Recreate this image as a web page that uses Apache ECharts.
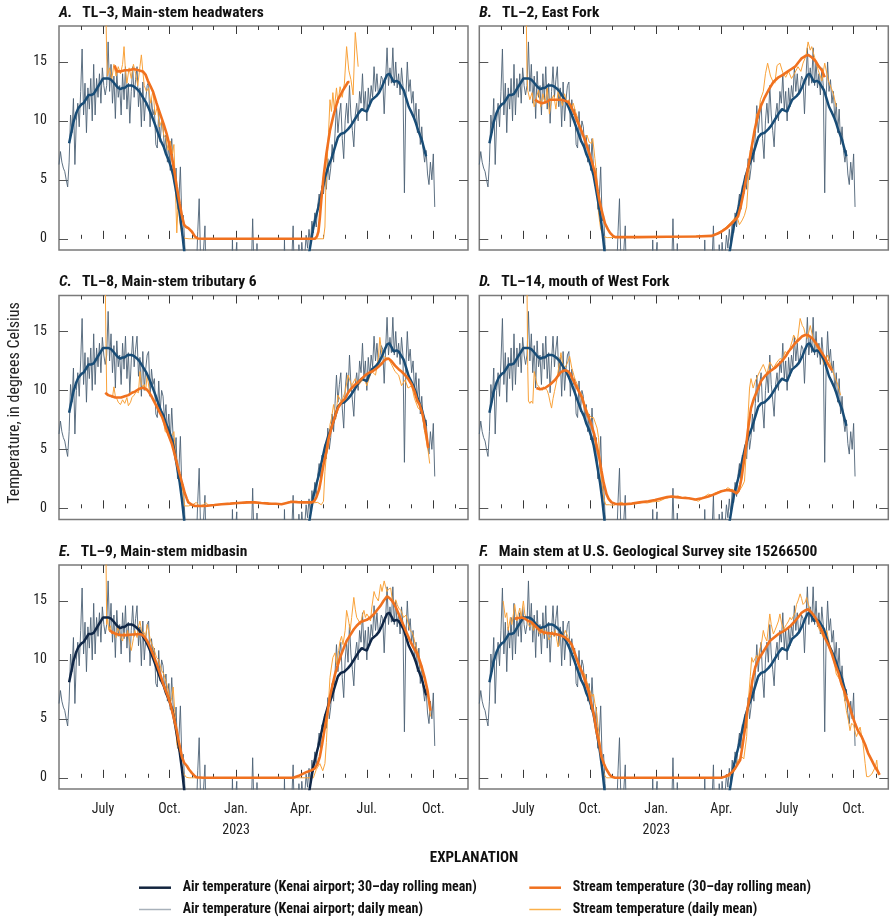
<!DOCTYPE html>
<html><head><meta charset="utf-8">
<script src="https://cdn.jsdelivr.net/npm/echarts@6/dist/echarts.min.js"></script>
<style>html,body{margin:0;padding:0;background:#fff}#c{width:895px;height:921px}</style>
</head><body><div id="c"></div>
<script>
// ---------------- DATA ----------------
const START_DATE = '2022-05-01';           // day 0 of all day offsets below
const END_DATE = '2023-11-18';
const AIR_STEP_DAYS = 2;                   // air daily values, one every 2 days from START_DATE

// Air temperature, Kenai airport, daily mean (deg C)
const airDaily = [
 6.3, 7.4, 6.5, 6.0, 5.7, 5.0, 4.4, 6.5, 10.5, 9.0,
 11.9, 6.3, 10.0, 11.5, 9.5, 12.5, 16.1, 10.5, 13.2, 9.0,
 12.8, 11.0, 13.6, 10.0, 14.8, 10.5, 13.6, 12.0, 14.0, 11.5,
 14.5, 13.0, 12.2, 13.0, 16.7, 12.5, 14.8, 11.5, 13.8, 10.2,
 14.2, 12.0, 13.0, 10.5, 14.0, 11.8, 14.6, 11.0, 13.2, 9.8,
 12.5, 14.6, 12.0, 13.5, 14.6, 11.2, 12.8, 9.5, 13.3, 10.0,
 11.8, 13.0, 13.3, 9.5, 11.8, 10.5, 11.0, 8.0, 7.7, 10.8,
 8.2, 10.0, 9.5, 7.5, 8.8, 6.5, 8.0, 5.8, 8.5, 6.0,
 4.5, 6.0, 2.5, 3.5, 6.1, 1.5, 2.0, -0.5, -3, -1.5,
 -4, -6, -2, -8, -5, -3, 0.6, 3.4, -2, -6,
 -1, 1.1, -5, -9, -12, -7, -10, -14, -8, -11,
 -6, -13, -9, -4, -7, -10, -5, -8, -3, -6,
 -0.1, -5, -2, -0.3, -7, -11, -6, -13, -9, -4,
 -8, -12, -6, -3, 1.7, -3, -6, -0.4, -6, -12,
 -8, -5, -10, -7, -14, -9, -6, -11, -4, -8,
 -5, -9, -3, -6, -4, -7, -0.1, -6, -3, -7,
 -4, -2, 1.1, -4, -2, -5, -0.5, -3, -0.3, -2,
 -1.5, 0.3, -0.8, 0.8, -0.5, 1.5, 0.5, 2.2, 1.0, 2.8,
 3.8, 2.5, 4.5, 3.8, 5.4, 4.2, 6.8, 5.0, 6.0, 8.0,
 6.5, 8.9, 11.3, 9.0, 10.5, 11.5, 8.5, 6.8, 10.0, 11.5,
 9.8, 13.0, 10.5, 9.2, 7.8, 10.5, 11.5, 10.0, 12.5, 11.5,
 14.0, 11.0, 12.5, 10.0, 12.8, 11.2, 13.0, 12.0, 14.6, 12.5,
 14.0, 12.2, 12.8, 13.8, 13.5, 10.6, 13.5, 16.2, 13.0, 14.5,
 13.2, 16.2, 13.0, 15.0, 12.8, 14.0, 12.2, 14.5, 13.0, 3.9,
 12.0, 15.0, 12.5, 13.5, 11.5, 12.5, 10.0, 11.5, 9.0, 11.0,
 8.0, 9.5, 7.5, 6.5, 7.5, 5.5, 4.6, 6.5, 5.0, 7.2,
 2.7
];

// Air temperature, 30-day rolling mean: [day offset, deg C]
const airRolling = [
 [14,8.1],[17,9.0],[20,9.9],[24,10.7],[27,11.1],[31,11.4],[34,11.5],[38,11.9],[41,12.2],[45,12.2],
 [48,12.3],[51,12.6],[54,12.9],[58,13.3],[61,13.6],[65,13.6],[68,13.6],[72,13.5],[75,13.3],[79,13.0],
 [82,12.8],[85,12.7],[88,12.8],[91,12.8],[95,13.0],[98,13.0],[101,13.0],[104,12.9],[108,12.7],[111,12.5],
 [114,12.2],[118,11.8],[121,11.5],[124,11.1],[128,10.5],[131,10.0],[134,9.5],[138,8.8],[141,8.3],[145,7.8],
 [148,7.2],[151,6.8],[155,6.1],[158,5.4],[161,4.4],[164,3.3],[167,2.2],[170,0.8],[173,-0.9],[178,-3.5],
 [185,-5.5],[195,-7],[210,-8],[225,-9],[240,-8.5],[255,-9],[270,-8],[285,-7.5],[300,-6.5],[315,-6],
 [328,-5],[335,-4],[340,-3.0],[347,-0.9],[352,1.0],[356,2.0],[359,2.7],[363,3.8],[368,5.2],[373,6.2],
 [377,6.8],[382,7.8],[386,8.6],[390,8.9],[395,9.0],[400,9.3],[404,9.6],[409,10.1],[414,10.6],[419,11.0],
 [422,10.9],[426,10.8],[430,11.4],[433,11.8],[439,12.1],[443,12.4],[447,12.9],[451,13.5],[454,13.9],[457,14.0],
 [460,13.7],[463,13.3],[467,13.4],[470,13.3],[474,12.9],[477,12.6],[481,11.8],[484,11.2],[488,10.7],[491,10.3],
 [494,9.8],[497,9.2],[502,8.4],[505,7.7],[508,7.0]
];

// Stream temperature, daily mean and 30-day rolling mean: [day offset, deg C]
const streamDailyA = [[65,19.0],[66,15.5],[67,13.8],[70,14.5],[73,13.5],[76,14.8],[79,13.8],[82,14.6],[85,14.0],[88,14.8],[90,16.3],[92,14.2],[94,13.2],[97,14.5],[100,13.6],[103,14.8],[106,14.0],[109,13.0],[112,14.6],[114,15.6],[116,14.2],[118,13.0],[121,12.5],[124,12.8],[127,11.5],[130,12.6],[133,10.5],[136,11.2],[139,9.5],[142,10.0],[145,8.8],[148,8.5],[151,7.5],[154,8.3],[157,7.2],[159,8.0],[161,4.4],[163,0.5],[165,3.3],[167,1.5],[170,0.3],[174,0.05],[180,0],[250,0],[320,0],[366,0],[368,1.0],[369,3.9],[371,6.4],[373,9.0],[375,11.8],[377,10.8],[379,12.4],[381,11.0],[384,12.8],[386,11.5],[389,12.9],[392,12.0],[395,13.2],[398,16.3],[401,14.3],[404,13.5],[407,12.2],[410,17.5],[414,14.6]];
const streamRollA = [[77,14.7],[80,14.2],[85,14.2],[91,14.3],[97,14.3],[103,14.4],[110,14.3],[116,14.2],[120,13.9],[123,13.4],[127,12.9],[130,12.5],[135,11.5],[140,10.6],[145,9.7],[149,8.9],[153,7.9],[156,7.0],[160,5.6],[163,4.4],[167,3.0],[170,2.0],[173,1.2],[176,1.0],[179,0.9],[184,0.6],[188,0.2],[192,0.02],[200,0],[280,0],[354,0],[357,0.2],[359,0.6],[361,1.8],[363,3.3],[366,5.2],[370,7.2],[375,9.2],[380,10.5],[386,11.8],[393,12.6],[400,13.3],[402,13.3]];

const streamDailyB = [[65,19.0],[66,14.0],[67,12.6],[70,11.8],[73,12.4],[76,11.2],[79,12.0],[82,12.6],[85,11.2],[88,12.3],[91,11.5],[94,12.8],[97,10.6],[100,11.8],[103,12.2],[106,11.0],[109,12.5],[112,12.0],[115,11.3],[118,12.3],[121,11.5],[124,11.8],[127,11.0],[130,11.5],[133,10.8],[137,10.1],[140,9.5],[143,9.0],[146,8.4],[149,8.8],[152,8.2],[155,8.1],[157,8.5],[160,6.8],[162,5.6],[165,2.2],[168,0.8],[172,0.2],[177,0.1],[200,0.12],[240,0.15],[280,0.2],[320,0.25],[330,0.5],[340,0.9],[350,1.5],[356,2.0],[360,1.2],[364,1.6],[367,2.0],[370,2.7],[373,5.5],[375,7.5],[379,8.4],[382,9.5],[384,10.6],[386,10.2],[389,11.8],[393,12.5],[396,14.0],[399,14.9],[403,13.8],[406,13.4],[409,13.2],[412,14.7],[416,14.9],[420,14.1],[424,13.7],[428,14.2],[432,13.6],[436,14.0],[441,14.6],[445,14.2],[448,14.9],[452,15.5],[455,16.7],[458,16.0],[460,16.3],[464,15.4],[469,14.3],[474,13.4],[478,14.9],[483,13.4],[487,12.8],[490,12.3],[494,11.2]];
const streamRollB = [[77,11.8],[82,11.6],[87,11.5],[93,11.6],[98,11.8],[104,11.8],[110,11.8],[114,11.8],[119,11.7],[123,11.6],[127,11.2],[132,10.6],[136,9.9],[141,9.2],[146,8.4],[151,7.5],[156,6.5],[160,5.6],[164,4.0],[167,3.0],[171,2.0],[174,1.3],[178,0.8],[181,0.5],[185,0.25],[188,0.14],[220,0.14],[260,0.17],[300,0.2],[322,0.25],[330,0.45],[335,0.6],[342,0.9],[349,1.3],[354,1.6],[358,1.9],[362,2.8],[366,4.0],[370,5.4],[374,6.7],[377,7.8],[381,9.2],[386,10.6],[390,11.3],[395,12.0],[401,12.7],[407,13.3],[414,13.7],[420,13.9],[427,14.2],[432,14.4],[437,14.6],[442,15.0],[446,15.3],[451,15.5],[455,15.6],[460,15.4],[465,15.1],[469,14.7],[474,14.3],[478,13.7]];

const streamDailyC = [[64,19.0],[65,14.0],[66,9.8],[68,9.6],[71,9.5],[74,9.4],[76,10.3],[78,9.5],[80,9.3],[82,9.0],[85,8.8],[88,9.2],[91,8.9],[94,9.4],[96,8.7],[99,9.0],[101,9.4],[104,9.6],[107,9.9],[110,9.8],[112,11.6],[114,10.5],[116,10.3],[118,10.5],[120,10.0],[122,11.3],[125,10.0],[128,9.5],[131,9.2],[133,8.9],[136,8.7],[138,8.5],[141,8.0],[143,7.7],[145,7.2],[147,6.5],[150,6.4],[152,6.0],[154,5.9],[157,6.2],[159,6.5],[161,4.8],[164,3.5],[166,2.6],[169,2.0],[171,1.7],[172,0.9],[174,0.2],[179,0.2],[185,0.3],[190,0.5],[194,0.2],[200,0.3],[203,0.5],[207,0.25],[215,0.3],[225,0.35],[235,0.4],[245,0.45],[255,0.4],[265,0.5],[275,0.45],[285,0.5],[295,0.4],[305,0.35],[312,0.4],[320,0.6],[330,0.5],[340,0.55],[350,0.45],[358,0.5],[363,0.3],[366,0.6],[368,3.1],[370,4.5],[373,5.4],[375,7.1],[377,7.6],[380,8.8],[383,7.6],[386,9.6],[391,9.0],[396,9.9],[400,11.3],[405,10.4],[410,11.0],[414,10.4],[419,10.8],[423,10.9],[426,10.4],[430,11.2],[433,11.6],[438,11.3],[442,12.8],[444,14.5],[447,13.0],[451,12.8],[456,12.7],[461,12.1],[465,11.6],[470,11.3],[474,10.4],[479,10.9],[483,10.2],[488,10.4],[492,9.3],[497,8.5],[502,8.2],[506,6.5],[511,4.8],[513,3.8]];
const streamRollC = [[64,9.8],[68,9.6],[73,9.5],[78,9.4],[82,9.4],[86,9.4],[91,9.5],[96,9.6],[101,9.8],[105,9.9],[110,10.1],[114,10.2],[117,10.2],[121,10.1],[124,9.9],[128,9.5],[133,8.9],[138,8.3],[143,7.7],[147,7.0],[151,6.3],[156,5.5],[160,4.6],[164,3.6],[167,2.9],[171,2.0],[174,1.3],[177,0.8],[179,0.5],[184,0.3],[188,0.2],[202,0.2],[215,0.28],[225,0.35],[237,0.4],[248,0.45],[260,0.5],[271,0.5],[280,0.45],[290,0.4],[300,0.38],[308,0.35],[315,0.45],[322,0.55],[330,0.52],[336,0.5],[343,0.5],[350,0.5],[353,0.6],[356,0.9],[360,1.6],[363,2.6],[366,3.7],[370,4.8],[373,5.9],[377,6.8],[382,7.8],[386,8.5],[391,9.0],[396,9.3],[400,9.8],[405,10.2],[410,10.5],[414,10.7],[419,11.0],[424,11.3],[429,11.5],[433,11.6],[438,11.8],[442,12.0],[447,12.3],[451,12.6],[456,12.7],[460,12.5],[465,12.1],[470,11.8],[474,11.6],[479,11.3],[483,11.0],[488,10.5],[492,9.9],[496,9.1],[499,8.8],[503,8.0],[506,7.1],[509,6.0],[511,5.1]];

const streamDailyD = [[66,19.0],[67,12.0],[68,9.1],[70,8.9],[72,9.1],[74,8.9],[76,11.6],[78,11.0],[80,10.5],[82,10.6],[84,10.2],[87,10.0],[89,10.3],[91,10.4],[94,10.0],[96,9.6],[98,9.0],[100,8.5],[102,9.3],[104,9.9],[107,10.8],[109,11.6],[111,12.4],[113,13.2],[115,12.3],[118,11.9],[121,12.2],[123,12.5],[125,12.9],[128,11.9],[130,11.5],[132,11.0],[135,10.6],[137,10.2],[140,9.8],[142,9.6],[145,9.0],[148,8.5],[151,8.0],[155,7.7],[158,7.7],[160,7.7],[163,6.8],[165,6.0],[168,2.9],[172,0.9],[175,0.3],[180,0.3],[186,0.25],[192,0.4],[197,0.5],[202,0.3],[210,0.35],[218,0.4],[225,0.5],[232,0.45],[240,0.55],[249,0.6],[256,0.8],[261,0.9],[266,1.0],[270,0.95],[275,1.05],[280,0.9],[285,0.95],[289,0.9],[295,0.75],[299,0.7],[303,0.6],[308,0.8],[312,1.0],[317,1.2],[321,1.1],[326,1.3],[331,1.4],[336,1.45],[341,1.6],[344,1.75],[348,1.6],[351,1.6],[353,1.7],[356,1.3],[359,1.4],[361,1.5],[364,1.9],[367,2.3],[370,5.4],[372,7.9],[374,10.2],[376,11.0],[379,10.2],[382,10.8],[384,10.8],[388,11.6],[393,12.2],[398,11.4],[402,12.4],[407,11.9],[412,12.4],[416,12.7],[420,12.6],[423,13.3],[427,13.1],[430,13.6],[433,14.2],[435,14.7],[440,14.1],[444,16.1],[447,15.5],[449,15.3],[451,14.8],[454,14.4],[458,15.5],[463,14.1],[468,13.6],[472,13.3],[477,12.2],[482,13.0],[486,12.2],[491,11.3],[496,10.5],[500,9.6]];
const streamRollD = [[79,10.2],[84,10.1],[91,10.2],[98,10.5],[105,10.9],[112,11.5],[116,11.65],[119,11.7],[122,11.65],[126,11.4],[129,11.0],[133,10.5],[137,10.0],[142,9.4],[145,8.8],[148,8.2],[152,7.6],[155,7.1],[159,6.3],[162,5.4],[166,4.3],[169,3.2],[172,2.2],[176,1.2],[179,0.8],[183,0.5],[188,0.38],[192,0.35],[200,0.35],[211,0.4],[222,0.5],[234,0.6],[243,0.7],[253,0.85],[260,0.95],[266,1.0],[273,0.95],[280,0.9],[290,0.85],[299,0.75],[308,0.85],[317,1.0],[326,1.2],[335,1.45],[343,1.55],[349,1.5],[353,1.4],[356,1.25],[359,1.5],[361,2.0],[363,2.6],[366,3.9],[370,5.7],[373,7.2],[376,8.5],[380,9.3],[384,9.9],[390,10.8],[395,11.2],[400,11.5],[404,11.7],[409,11.9],[414,12.2],[419,12.5],[424,12.9],[428,13.3],[432,13.6],[437,14.0],[442,14.3],[447,14.6],[451,14.7],[454,14.7],[457,14.6],[461,14.4],[466,14.0],[470,13.6],[475,13.1],[479,12.7],[483,12.2],[488,11.7]];

const streamDailyE = [[65,19.0],[66,13.0],[67,13.6],[69,12.5],[71,12.9],[73,12.2],[76,12.4],[79,11.9],[81,12.8],[83,12.5],[86,11.8],[88,11.6],[90,12.3],[93,12.0],[95,12.5],[98,11.5],[100,10.8],[103,11.8],[105,12.5],[108,11.9],[110,12.8],[112,13.3],[115,12.2],[117,12.4],[120,12.0],[122,13.0],[124,12.5],[126,11.8],[128,11.4],[131,11.0],[133,10.6],[135,10.2],[138,10.0],[140,9.5],[142,9.1],[145,8.8],[147,8.4],[149,8.0],[152,7.2],[154,6.3],[156,6.8],[158,7.7],[160,5.8],[161,4.9],[163,2.9],[165,2.5],[167,2.1],[170,1.0],[172,0.4],[176,0.05],[180,0],[260,0],[352,0],[356,0.7],[358,0.9],[361,1.2],[365,0.6],[368,1.2],[370,3.0],[372,5.4],[375,8.5],[377,9.4],[379,10.2],[382,10.6],[384,9.6],[387,10.8],[389,11.6],[391,12.0],[393,11.3],[396,12.5],[398,14.2],[400,13.6],[403,12.5],[405,13.6],[408,15.3],[410,14.3],[412,13.6],[415,13.3],[417,13.0],[420,13.8],[422,14.2],[424,13.6],[426,13.9],[429,13.6],[431,13.3],[433,14.5],[436,15.8],[438,15.4],[440,15.5],[442,15.0],[445,16.4],[447,15.8],[450,16.7],[452,16.2],[454,15.8],[456,16.0],[459,16.1],[461,15.2],[464,14.7],[466,15.1],[468,14.7],[470,14.4],[473,14.2],[475,13.9],[477,13.6],[480,13.8],[482,13.4],[484,12.9],[486,12.5],[489,12.3],[491,11.9],[493,11.3],[496,10.8],[498,10.1],[500,9.4],[503,9.0],[505,8.5],[507,8.0],[510,7.4],[512,6.5],[514,5.2]];
const streamRollE = [[70,12.5],[75,12.3],[79,12.2],[86,12.1],[93,12.1],[102,12.15],[112,12.2],[116,12.1],[119,11.9],[123,11.5],[126,11.1],[130,10.5],[135,9.7],[140,8.8],[144,8.0],[149,7.2],[154,6.3],[158,5.3],[163,4.0],[166,3.0],[170,1.8],[173,1.3],[177,1.0],[180,0.7],[184,0.4],[187,0.2],[190,0.05],[200,0],[260,0],[324,0],[333,0.2],[343,0.5],[350,0.65],[354,0.8],[358,1.2],[361,1.8],[364,2.8],[368,4.3],[372,5.7],[375,6.9],[379,8.0],[382,8.8],[386,9.6],[389,10.2],[394,11.0],[398,11.6],[403,12.1],[408,12.6],[412,12.9],[417,13.2],[421,13.3],[426,13.4],[431,13.6],[436,13.9],[441,14.3],[445,14.6],[449,15.0],[454,15.4],[458,15.2],[461,15.0],[465,14.6],[468,14.2],[472,13.6],[477,12.9],[481,12.3],[486,11.6],[491,11.0],[496,10.5],[502,9.4],[506,8.5],[510,7.4],[514,5.7]];

const streamDailyF = [[33,15.0],[36,13.6],[38,14.0],[40,12.5],[43,13.6],[45,13.0],[47,13.8],[49,14.7],[52,13.3],[54,13.9],[56,14.4],[58,13.6],[61,15.0],[63,13.9],[66,13.3],[68,13.0],[70,12.8],[73,13.1],[75,12.5],[77,12.9],[79,13.2],[82,12.4],[84,12.2],[87,12.7],[89,12.1],[91,12.5],[94,12.3],[96,11.7],[98,11.9],[101,12.4],[103,12.0],[105,12.5],[107,11.8],[109,11.1],[112,12.0],[114,12.3],[116,11.9],[119,12.5],[121,12.2],[123,11.9],[126,11.5],[128,11.4],[130,10.9],[133,10.4],[135,9.9],[137,9.6],[139,9.1],[142,9.0],[144,8.9],[146,8.8],[149,8.1],[151,7.8],[153,7.4],[156,6.9],[158,7.1],[160,6.3],[162,5.7],[164,4.6],[166,3.5],[168,2.2],[169,1.2],[171,0.6],[173,0.25],[176,0],[250,0],[335,0],[345,0.1],[349,0.25],[354,0.7],[358,1.5],[361,1.6],[363,1.8],[366,1.6],[368,1.5],[370,3.5],[372,6.3],[375,8.6],[377,10.2],[379,9.8],[381,9.7],[384,10.4],[386,10.0],[388,10.8],[391,11.6],[393,12.5],[395,12.0],[398,11.6],[400,12.7],[402,13.9],[404,13.0],[407,12.2],[409,12.5],[411,12.8],[414,13.3],[416,13.9],[418,13.2],[421,12.5],[423,12.8],[425,13.0],[428,13.3],[430,13.6],[432,13.4],[434,13.3],[437,14.0],[439,14.7],[441,15.0],[444,15.6],[446,15.2],[448,14.7],[451,14.9],[453,15.3],[455,14.8],[458,14.2],[460,14.0],[462,13.9],[465,13.6],[467,13.3],[469,12.8],[471,12.5],[474,12.2],[476,11.9],[478,12.1],[481,12.5],[483,11.8],[485,11.3],[488,10.8],[490,10.2],[492,9.5],[494,8.8],[497,8.5],[499,8.3],[501,7.9],[504,7.4],[506,6.5],[508,5.7],[511,4.8],[513,4.0],[515,4.6],[518,4.5],[520,3.9],[522,3.5],[525,4.0],[527,4.3],[529,3.6],[531,2.9],[534,1.2],[536,0.1],[539,0.1],[541,0.15],[543,0.3],[545,0.4],[548,0.9],[550,1.5],[552,0.25]];
const streamRollF = [[49,13.5],[54,13.55],[59,13.6],[63,13.5],[68,13.3],[72,13.2],[77,12.9],[82,12.6],[86,12.4],[91,12.3],[98,12.25],[105,12.2],[112,12.1],[119,11.9],[124,11.6],[128,11.3],[132,10.6],[137,9.7],[142,9.0],[146,8.3],[151,7.4],[155,6.3],[159,5.2],[162,4.0],[166,2.9],[169,1.8],[173,1.1],[176,0.7],[180,0.3],[183,0.1],[188,0],[260,0],[335,0],[340,0.1],[345,0.25],[350,0.5],[354,0.8],[358,1.2],[361,1.5],[364,2.6],[368,4.3],[371,5.8],[375,7.1],[378,8.3],[382,9.4],[386,10.0],[391,10.5],[396,11.0],[402,11.6],[408,11.9],[414,12.2],[420,12.4],[425,12.6],[431,12.9],[437,13.3],[441,13.6],[446,14.0],[451,14.2],[455,14.3],[460,14.0],[465,13.6],[469,13.1],[474,12.5],[478,11.9],[483,11.3],[488,10.5],[492,9.7],[497,8.9],[501,8.0],[506,7.2],[511,6.3],[515,5.5],[520,4.6],[524,4.0],[529,3.5],[534,2.8],[538,2.1],[543,1.5],[547,1.0],[551,0.6],[554,0.25]];

// Axis ticks and labels
const majorTickDates = ['2022-07-01','2022-10-01','2023-01-01','2023-04-01','2023-07-01','2023-10-01'];
const minorTickDates = ['2022-06-01','2022-07-01','2022-08-01','2022-09-01','2022-10-01','2022-11-01','2022-12-01',
  '2023-01-01','2023-02-01','2023-03-01','2023-04-01','2023-05-01','2023-06-01','2023-07-01','2023-08-01',
  '2023-09-01','2023-10-01','2023-11-01'];
const tickLabelsLeft  = ['July','Oct.','Jan.\n2023','Apr.','Jul.','Oct.'];
const tickLabelsRight = ['July','Oct.','Jan.\n2023','Apr.','July','Oct.'];
const yTicks = [0, 5, 10, 15];
const Y_MIN = -0.95, Y_MAX = 18.05;

const panelLetters = ['A.','B.','C.','D.','E.','F.'];
const panelTitles = ['TL–3, Main-stem headwaters','TL–2, East Fork','TL–8, Main-stem tributary 6',
  'TL–14, mouth of West Fork','TL–9, Main-stem midbasin','Main stem at U.S. Geological Survey site 15266500'];
const streamDaily = [streamDailyA, streamDailyB, streamDailyC, streamDailyD, streamDailyE, streamDailyF];
const streamRoll  = [streamRollA, streamRollB, streamRollC, streamRollD, streamRollE, streamRollF];

const NAME_AIR_ROLL = 'Air temperature (Kenai airport; 30–day rolling mean)';
const NAME_AIR_DAILY = 'Air temperature (Kenai airport; daily mean)';
const NAME_ST_ROLL = 'Stream temperature (30–day rolling mean)';
const NAME_ST_DAILY = 'Stream temperature (daily mean)';

// ---------------- BUILD ----------------
const DAY = 86400000;
const t0 = Date.parse(START_DATE + 'T00:00:00Z');
const toTime = s => Date.parse(s + 'T00:00:00Z');
const fromDay = d => t0 + d * DAY;
const pairs = arr => arr.map(p => [fromDay(p[0]), p[1]]);
const airDailyPts = airDaily.map((v, i) => [fromDay(i * AIR_STEP_DAYS), v]);
const airRollPts = pairs(airRolling);
const majorT = majorTickDates.map(toTime);
const minorT = minorTickDates.map(toTime);
const xMin = t0, xMax = toTime(END_DATE);

const FONT = '"Liberation Sans Narrow","Arial Narrow","Roboto Condensed","DejaVu Sans Condensed",sans-serif';
const C_AIR_DAILY = '#4d6276';
const C_AIR_ROLL = '#184c76';
const C_AIR_ROLL_DARK = '#0f2646';
const C_ST_DAILY = '#f9a23a';
const C_ST_ROLL = '#f0711f';
const C_FRAME = '#7a7a7a';
const C_TICK = '#3a3a3a';

const gridLeft = [59, 479.3];
const gridTop = [26, 295.5, 565];
const GRID_W = 409, GRID_H = 224;

const grids = [], xAxes = [], yAxes = [], series = [], titles = [];
for (let p = 0; p < 6; p++) {
  const col = p % 2, row = Math.floor(p / 2);
  grids.push({left: gridLeft[col], top: gridTop[row], width: GRID_W, height: GRID_H,
    show: true, borderColor: C_FRAME, borderWidth: 1.5, backgroundColor: 'transparent', containLabel: false});
  const labels = col === 0 ? tickLabelsLeft : tickLabelsRight;
  // x axes: linear scale over epoch milliseconds (dates)
  const baseX = {type: 'value', gridIndex: p, min: xMin, max: xMax, scale: true,
    axisLine: {show: false}, splitLine: {show: false}, axisPointer: {show: false}};
  xAxes.push(Object.assign({}, baseX, {position: 'bottom',
    axisTick: {show: true, inside: true, length: 8, customValues: majorT, lineStyle: {color: C_TICK, width: 1}},
    axisLabel: {show: row === 2, customValues: majorT, margin: 10, fontFamily: FONT, fontSize: 14, color: '#222',
      lineHeight: 21, align: 'center',
      formatter: v => { const k = majorT.indexOf(v); return k >= 0 ? labels[k] : ''; }}}));
  xAxes.push(Object.assign({}, baseX, {position: 'bottom',
    axisTick: {show: true, inside: true, length: 4, customValues: minorT, lineStyle: {color: C_TICK, width: 1}},
    axisLabel: {show: false}}));
  xAxes.push(Object.assign({}, baseX, {position: 'top',
    axisTick: {show: true, inside: true, length: 8, customValues: majorT, lineStyle: {color: C_TICK, width: 1}},
    axisLabel: {show: false}}));
  xAxes.push(Object.assign({}, baseX, {position: 'top',
    axisTick: {show: true, inside: true, length: 4, customValues: minorT, lineStyle: {color: C_TICK, width: 1}},
    axisLabel: {show: false}}));
  const baseY = {type: 'value', gridIndex: p, min: Y_MIN, max: Y_MAX,
    axisLine: {show: false}, splitLine: {show: false},
    axisTick: {show: true, inside: true, length: 9, customValues: yTicks, lineStyle: {color: '#555', width: 1}}};
  yAxes.push(Object.assign({}, baseY, {position: 'left',
    axisLabel: {show: col === 0, customValues: yTicks, margin: 12, fontFamily: FONT, fontSize: 14, color: '#222'}}));
  yAxes.push(Object.assign({}, baseY, {position: 'right', axisLabel: {show: false}}));

  const xi = p * 4, yi = p * 2;
  const common = {type: 'line', xAxisIndex: xi, yAxisIndex: yi, showSymbol: false, symbol: 'none',
    animation: false, clip: true, silent: true};
  series.push(Object.assign({}, common, {name: NAME_AIR_DAILY, data: airDailyPts, z: 1,
    lineStyle: {color: C_AIR_DAILY, width: 1, opacity: 0.9}}));
  series.push(Object.assign({}, common, {name: NAME_ST_DAILY, data: pairs(streamDaily[p]), z: 2,
    lineStyle: {color: C_ST_DAILY, width: 1}}));
  series.push(Object.assign({}, common, {name: NAME_AIR_ROLL, data: airRollPts, z: 3,
    lineStyle: {color: p === 4 ? C_AIR_ROLL_DARK : C_AIR_ROLL, width: 2.5}}));
  series.push(Object.assign({}, common, {name: NAME_ST_ROLL, data: pairs(streamRoll[p]), z: 4,
    lineStyle: {color: C_ST_ROLL, width: 2.6}}));

  titles.push({text: '{i|' + panelLetters[p] + '}  {b|' + panelTitles[p] + '}',
    left: gridLeft[col], top: gridTop[row] - 22, padding: 0,
    textStyle: {rich: {
      i: {fontFamily: FONT, fontSize: 15.5, fontWeight: 'bold', fontStyle: 'italic', color: '#111'},
      b: {fontFamily: FONT, fontSize: 15.5, fontWeight: 'bold', color: '#111'}}}});
}

const legendFont = 'bold 14px ' + FONT;
const legendItems = [
  {x1: 139, x2: 171, tx: 182.7, y: 887.7, color: '#13253f', w: 2.5, text: NAME_AIR_ROLL},
  {x1: 139, x2: 171, tx: 182.7, y: 909.5, color: '#a8b1ba', w: 1.5, text: NAME_AIR_DAILY},
  {x1: 529.3, x2: 561, tx: 572.7, y: 887.7, color: C_ST_ROLL, w: 2.5, text: NAME_ST_ROLL},
  {x1: 529.3, x2: 561, tx: 572.7, y: 909.5, color: '#fbb04a', w: 1.5, text: NAME_ST_DAILY}
];
const graphics = [
  {type: 'text', x: 15, y: 403, rotation: Math.PI / 2,
    style: {text: 'Temperature, in degrees Celsius', font: '16px ' + FONT, fill: '#222',
      textAlign: 'center', textVerticalAlign: 'middle'}},
  {type: 'text', x: 474, y: 858,
    style: {text: 'EXPLANATION', font: 'bold 15px ' + FONT, fill: '#111', textAlign: 'center', textVerticalAlign: 'middle'}}
];
legendItems.forEach(it => {
  graphics.push({type: 'line', shape: {x1: it.x1, y1: it.y, x2: it.x2, y2: it.y},
    style: {stroke: it.color, lineWidth: it.w}});
  graphics.push({type: 'text', x: it.tx, y: it.y,
    style: {text: it.text, font: legendFont, fill: '#111', textAlign: 'left', textVerticalAlign: 'middle'}});
});

const chart = echarts.init(document.getElementById('c'), null, {renderer: 'canvas', width: 895, height: 921});
chart.setOption({
  animation: false,
  backgroundColor: '#ffffff',
  title: titles,
  grid: grids,
  xAxis: xAxes,
  yAxis: yAxes,
  series: series,
  graphic: graphics
});
</script>
</body></html>
